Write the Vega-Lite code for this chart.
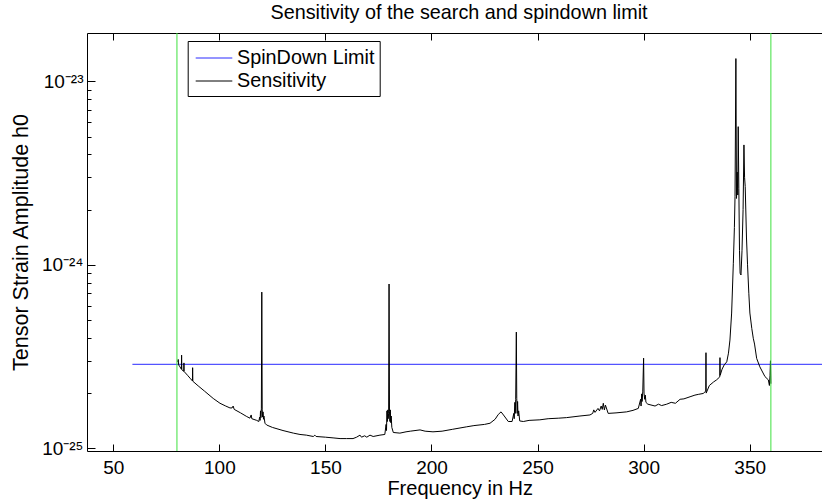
{
  "$schema": "https://vega.github.io/schema/vega-lite/v6.json",
  "autosize": "none",
  "padding": {"left": 87, "top": 33, "right": 0, "bottom": 51},
  "width": 735,
  "height": 418,
  "title": {"text": "Sensitivity of the search and spindown limit", "fontSize": 19.8, "fontWeight": "normal", "font": "Liberation Sans", "color": "black", "anchor": "middle", "frame": "group", "dx": 4.5, "dy": 6.5, "offset": 0.4, "baseline": "alphabetic"},
  "datasets": {
    "lines": [
      {"f": 59, "h": 2.87e-25, "s": "SpinDown Limit"},
      {"f": 400, "h": 2.87e-25, "s": "SpinDown Limit"},
      {"f": 80.4, "h": 2.95e-25, "s": "Sensitivity"},
      {"f": 80.6, "h": 3.05e-25, "s": "Sensitivity"},
      {"f": 80.8, "h": 2.85e-25, "s": "Sensitivity"},
      {"f": 81.4, "h": 2.78e-25, "s": "Sensitivity"},
      {"f": 82.1, "h": 2.70e-25, "s": "Sensitivity"},
      {"f": 82.2, "h": 3.22e-25, "s": "Sensitivity"},
      {"f": 82.3, "h": 2.68e-25, "s": "Sensitivity"},
      {"f": 83.2, "h": 2.63e-25, "s": "Sensitivity"},
      {"f": 83.3, "h": 2.92e-25, "s": "Sensitivity"},
      {"f": 83.4, "h": 2.62e-25, "s": "Sensitivity"},
      {"f": 85.0, "h": 2.50e-25, "s": "Sensitivity"},
      {"f": 86.2, "h": 2.41e-25, "s": "Sensitivity"},
      {"f": 87.3, "h": 2.33e-25, "s": "Sensitivity"},
      {"f": 87.4, "h": 2.75e-25, "s": "Sensitivity"},
      {"f": 87.5, "h": 2.32e-25, "s": "Sensitivity"},
      {"f": 90.0, "h": 2.19e-25, "s": "Sensitivity"},
      {"f": 93.0, "h": 2.05e-25, "s": "Sensitivity"},
      {"f": 97.1, "h": 1.87e-25, "s": "Sensitivity"},
      {"f": 100.3, "h": 1.76e-25, "s": "Sensitivity"},
      {"f": 103.0, "h": 1.70e-25, "s": "Sensitivity"},
      {"f": 105.0, "h": 1.66e-25, "s": "Sensitivity"},
      {"f": 106.0, "h": 1.66e-25, "s": "Sensitivity"},
      {"f": 106.5, "h": 1.70e-25, "s": "Sensitivity"},
      {"f": 107.0, "h": 1.63e-25, "s": "Sensitivity"},
      {"f": 110.0, "h": 1.56e-25, "s": "Sensitivity"},
      {"f": 112.9, "h": 1.49e-25, "s": "Sensitivity"},
      {"f": 114.4, "h": 1.46e-25, "s": "Sensitivity"},
      {"f": 115.0, "h": 1.52e-25, "s": "Sensitivity"},
      {"f": 115.3, "h": 1.45e-25, "s": "Sensitivity"},
      {"f": 117.6, "h": 1.42e-25, "s": "Sensitivity"},
      {"f": 118.6, "h": 1.40e-25, "s": "Sensitivity"},
      {"f": 119.0, "h": 1.48e-25, "s": "Sensitivity"},
      {"f": 119.2, "h": 1.42e-25, "s": "Sensitivity"},
      {"f": 119.4, "h": 1.60e-25, "s": "Sensitivity"},
      {"f": 119.6, "h": 1.47e-25, "s": "Sensitivity"},
      {"f": 119.8, "h": 1.64e-25, "s": "Sensitivity"},
      {"f": 120.0, "h": 7.10e-25, "s": "Sensitivity"},
      {"f": 120.2, "h": 1.62e-25, "s": "Sensitivity"},
      {"f": 120.4, "h": 1.48e-25, "s": "Sensitivity"},
      {"f": 120.6, "h": 1.58e-25, "s": "Sensitivity"},
      {"f": 120.8, "h": 1.44e-25, "s": "Sensitivity"},
      {"f": 121.0, "h": 1.50e-25, "s": "Sensitivity"},
      {"f": 121.5, "h": 1.37e-25, "s": "Sensitivity"},
      {"f": 122.3, "h": 1.34e-25, "s": "Sensitivity"},
      {"f": 125.0, "h": 1.30e-25, "s": "Sensitivity"},
      {"f": 130.0, "h": 1.25e-25, "s": "Sensitivity"},
      {"f": 134.9, "h": 1.21e-25, "s": "Sensitivity"},
      {"f": 138.0, "h": 1.19e-25, "s": "Sensitivity"},
      {"f": 141.0, "h": 1.18e-25, "s": "Sensitivity"},
      {"f": 144.3, "h": 1.16e-25, "s": "Sensitivity"},
      {"f": 145.0, "h": 1.18e-25, "s": "Sensitivity"},
      {"f": 145.6, "h": 1.16e-25, "s": "Sensitivity"},
      {"f": 150.0, "h": 1.15e-25, "s": "Sensitivity"},
      {"f": 153.6, "h": 1.14e-25, "s": "Sensitivity"},
      {"f": 156.9, "h": 1.13e-25, "s": "Sensitivity"},
      {"f": 160.0, "h": 1.13e-25, "s": "Sensitivity"},
      {"f": 163.0, "h": 1.13e-25, "s": "Sensitivity"},
      {"f": 164.7, "h": 1.15e-25, "s": "Sensitivity"},
      {"f": 166.3, "h": 1.18e-25, "s": "Sensitivity"},
      {"f": 167.0, "h": 1.15e-25, "s": "Sensitivity"},
      {"f": 168.5, "h": 1.17e-25, "s": "Sensitivity"},
      {"f": 169.5, "h": 1.15e-25, "s": "Sensitivity"},
      {"f": 171.0, "h": 1.18e-25, "s": "Sensitivity"},
      {"f": 172.5, "h": 1.16e-25, "s": "Sensitivity"},
      {"f": 175.7, "h": 1.18e-25, "s": "Sensitivity"},
      {"f": 178.0, "h": 1.19e-25, "s": "Sensitivity"},
      {"f": 178.6, "h": 1.35e-25, "s": "Sensitivity"},
      {"f": 178.8, "h": 1.25e-25, "s": "Sensitivity"},
      {"f": 179.0, "h": 1.60e-25, "s": "Sensitivity"},
      {"f": 179.2, "h": 1.40e-25, "s": "Sensitivity"},
      {"f": 179.4, "h": 1.62e-25, "s": "Sensitivity"},
      {"f": 179.6, "h": 1.45e-25, "s": "Sensitivity"},
      {"f": 179.8, "h": 1.55e-25, "s": "Sensitivity"},
      {"f": 180.0, "h": 7.86e-25, "s": "Sensitivity"},
      {"f": 180.2, "h": 1.58e-25, "s": "Sensitivity"},
      {"f": 180.4, "h": 1.40e-25, "s": "Sensitivity"},
      {"f": 180.6, "h": 1.62e-25, "s": "Sensitivity"},
      {"f": 180.8, "h": 1.38e-25, "s": "Sensitivity"},
      {"f": 181.0, "h": 1.50e-25, "s": "Sensitivity"},
      {"f": 181.3, "h": 1.30e-25, "s": "Sensitivity"},
      {"f": 182.0, "h": 1.22e-25, "s": "Sensitivity"},
      {"f": 185.1, "h": 1.21e-25, "s": "Sensitivity"},
      {"f": 188.0, "h": 1.23e-25, "s": "Sensitivity"},
      {"f": 190.0, "h": 1.24e-25, "s": "Sensitivity"},
      {"f": 194.6, "h": 1.26e-25, "s": "Sensitivity"},
      {"f": 197.0, "h": 1.24e-25, "s": "Sensitivity"},
      {"f": 200.7, "h": 1.23e-25, "s": "Sensitivity"},
      {"f": 205.0, "h": 1.24e-25, "s": "Sensitivity"},
      {"f": 210.0, "h": 1.27e-25, "s": "Sensitivity"},
      {"f": 216.6, "h": 1.31e-25, "s": "Sensitivity"},
      {"f": 220.0, "h": 1.33e-25, "s": "Sensitivity"},
      {"f": 225.0, "h": 1.35e-25, "s": "Sensitivity"},
      {"f": 227.6, "h": 1.37e-25, "s": "Sensitivity"},
      {"f": 230.0, "h": 1.44e-25, "s": "Sensitivity"},
      {"f": 231.5, "h": 1.53e-25, "s": "Sensitivity"},
      {"f": 232.8, "h": 1.58e-25, "s": "Sensitivity"},
      {"f": 234.3, "h": 1.50e-25, "s": "Sensitivity"},
      {"f": 236.2, "h": 1.40e-25, "s": "Sensitivity"},
      {"f": 238.0, "h": 1.40e-25, "s": "Sensitivity"},
      {"f": 238.8, "h": 1.55e-25, "s": "Sensitivity"},
      {"f": 239.0, "h": 1.45e-25, "s": "Sensitivity"},
      {"f": 239.3, "h": 1.78e-25, "s": "Sensitivity"},
      {"f": 239.5, "h": 1.55e-25, "s": "Sensitivity"},
      {"f": 239.7, "h": 1.85e-25, "s": "Sensitivity"},
      {"f": 240.0, "h": 4.30e-25, "s": "Sensitivity"},
      {"f": 240.2, "h": 1.87e-25, "s": "Sensitivity"},
      {"f": 240.4, "h": 1.55e-25, "s": "Sensitivity"},
      {"f": 240.6, "h": 1.80e-25, "s": "Sensitivity"},
      {"f": 240.8, "h": 1.50e-25, "s": "Sensitivity"},
      {"f": 241.1, "h": 1.60e-25, "s": "Sensitivity"},
      {"f": 241.6, "h": 1.41e-25, "s": "Sensitivity"},
      {"f": 243.3, "h": 1.40e-25, "s": "Sensitivity"},
      {"f": 246.0, "h": 1.42e-25, "s": "Sensitivity"},
      {"f": 251.1, "h": 1.43e-25, "s": "Sensitivity"},
      {"f": 255.0, "h": 1.45e-25, "s": "Sensitivity"},
      {"f": 260.0, "h": 1.46e-25, "s": "Sensitivity"},
      {"f": 263.7, "h": 1.47e-25, "s": "Sensitivity"},
      {"f": 270.0, "h": 1.50e-25, "s": "Sensitivity"},
      {"f": 274.7, "h": 1.52e-25, "s": "Sensitivity"},
      {"f": 276.0, "h": 1.55e-25, "s": "Sensitivity"},
      {"f": 276.5, "h": 1.62e-25, "s": "Sensitivity"},
      {"f": 277.1, "h": 1.57e-25, "s": "Sensitivity"},
      {"f": 278.5, "h": 1.65e-25, "s": "Sensitivity"},
      {"f": 279.2, "h": 1.60e-25, "s": "Sensitivity"},
      {"f": 280.0, "h": 1.70e-25, "s": "Sensitivity"},
      {"f": 280.5, "h": 1.63e-25, "s": "Sensitivity"},
      {"f": 281.0, "h": 1.76e-25, "s": "Sensitivity"},
      {"f": 281.5, "h": 1.62e-25, "s": "Sensitivity"},
      {"f": 282.0, "h": 1.72e-25, "s": "Sensitivity"},
      {"f": 283.3, "h": 1.55e-25, "s": "Sensitivity"},
      {"f": 287.0, "h": 1.56e-25, "s": "Sensitivity"},
      {"f": 292.0, "h": 1.58e-25, "s": "Sensitivity"},
      {"f": 295.0, "h": 1.61e-25, "s": "Sensitivity"},
      {"f": 297.5, "h": 1.65e-25, "s": "Sensitivity"},
      {"f": 298.6, "h": 1.85e-25, "s": "Sensitivity"},
      {"f": 298.8, "h": 1.70e-25, "s": "Sensitivity"},
      {"f": 299.1, "h": 1.98e-25, "s": "Sensitivity"},
      {"f": 299.3, "h": 1.80e-25, "s": "Sensitivity"},
      {"f": 299.6, "h": 2.03e-25, "s": "Sensitivity"},
      {"f": 300.0, "h": 3.10e-25, "s": "Sensitivity"},
      {"f": 300.2, "h": 2.00e-25, "s": "Sensitivity"},
      {"f": 300.5, "h": 1.85e-25, "s": "Sensitivity"},
      {"f": 300.8, "h": 1.95e-25, "s": "Sensitivity"},
      {"f": 301.1, "h": 1.78e-25, "s": "Sensitivity"},
      {"f": 302.0, "h": 1.74e-25, "s": "Sensitivity"},
      {"f": 305.4, "h": 1.70e-25, "s": "Sensitivity"},
      {"f": 307.0, "h": 1.74e-25, "s": "Sensitivity"},
      {"f": 308.5, "h": 1.71e-25, "s": "Sensitivity"},
      {"f": 310.9, "h": 1.74e-25, "s": "Sensitivity"},
      {"f": 313.0, "h": 1.78e-25, "s": "Sensitivity"},
      {"f": 315.0, "h": 1.76e-25, "s": "Sensitivity"},
      {"f": 317.2, "h": 1.85e-25, "s": "Sensitivity"},
      {"f": 319.0, "h": 1.86e-25, "s": "Sensitivity"},
      {"f": 321.9, "h": 1.91e-25, "s": "Sensitivity"},
      {"f": 324.2, "h": 1.95e-25, "s": "Sensitivity"},
      {"f": 326.0, "h": 1.97e-25, "s": "Sensitivity"},
      {"f": 328.1, "h": 1.99e-25, "s": "Sensitivity"},
      {"f": 329.3, "h": 2.05e-25, "s": "Sensitivity"},
      {"f": 329.4, "h": 3.32e-25, "s": "Sensitivity"},
      {"f": 329.5, "h": 2.00e-25, "s": "Sensitivity"},
      {"f": 331.0, "h": 2.20e-25, "s": "Sensitivity"},
      {"f": 333.0, "h": 2.30e-25, "s": "Sensitivity"},
      {"f": 334.4, "h": 2.36e-25, "s": "Sensitivity"},
      {"f": 335.9, "h": 2.45e-25, "s": "Sensitivity"},
      {"f": 336.0, "h": 3.12e-25, "s": "Sensitivity"},
      {"f": 336.1, "h": 2.50e-25, "s": "Sensitivity"},
      {"f": 337.0, "h": 2.70e-25, "s": "Sensitivity"},
      {"f": 338.0, "h": 2.85e-25, "s": "Sensitivity"},
      {"f": 339.2, "h": 2.96e-25, "s": "Sensitivity"},
      {"f": 340.0, "h": 3.30e-25, "s": "Sensitivity"},
      {"f": 340.7, "h": 3.89e-25, "s": "Sensitivity"},
      {"f": 341.5, "h": 5.46e-25, "s": "Sensitivity"},
      {"f": 342.3, "h": 1.02e-24, "s": "Sensitivity"},
      {"f": 342.8, "h": 1.60e-24, "s": "Sensitivity"},
      {"f": 343.1, "h": 2.35e-24, "s": "Sensitivity"},
      {"f": 343.5, "h": 1.33e-23, "s": "Sensitivity"},
      {"f": 343.8, "h": 2.30e-24, "s": "Sensitivity"},
      {"f": 344.1, "h": 3.20e-24, "s": "Sensitivity"},
      {"f": 344.4, "h": 2.40e-24, "s": "Sensitivity"},
      {"f": 344.6, "h": 5.66e-24, "s": "Sensitivity"},
      {"f": 344.9, "h": 2.60e-24, "s": "Sensitivity"},
      {"f": 345.2, "h": 1.20e-24, "s": "Sensitivity"},
      {"f": 345.5, "h": 9.00e-25, "s": "Sensitivity"},
      {"f": 345.9, "h": 8.80e-25, "s": "Sensitivity"},
      {"f": 346.4, "h": 1.20e-24, "s": "Sensitivity"},
      {"f": 346.9, "h": 2.00e-24, "s": "Sensitivity"},
      {"f": 347.3, "h": 4.50e-24, "s": "Sensitivity"},
      {"f": 347.6, "h": 3.00e-24, "s": "Sensitivity"},
      {"f": 347.9, "h": 2.67e-24, "s": "Sensitivity"},
      {"f": 348.5, "h": 1.40e-24, "s": "Sensitivity"},
      {"f": 349.0, "h": 1.00e-24, "s": "Sensitivity"},
      {"f": 349.6, "h": 7.00e-25, "s": "Sensitivity"},
      {"f": 350.1, "h": 5.46e-25, "s": "Sensitivity"},
      {"f": 351.0, "h": 4.50e-25, "s": "Sensitivity"},
      {"f": 351.7, "h": 3.98e-25, "s": "Sensitivity"},
      {"f": 352.3, "h": 3.70e-25, "s": "Sensitivity"},
      {"f": 353.3, "h": 3.09e-25, "s": "Sensitivity"},
      {"f": 354.8, "h": 2.78e-25, "s": "Sensitivity"},
      {"f": 357.2, "h": 2.46e-25, "s": "Sensitivity"},
      {"f": 358.8, "h": 2.36e-25, "s": "Sensitivity"},
      {"f": 359.3, "h": 2.20e-25, "s": "Sensitivity"},
      {"f": 359.6, "h": 2.50e-25, "s": "Sensitivity"},
      {"f": 359.8, "h": 3.00e-25, "s": "Sensitivity"},
      {"f": 360.0, "h": 2.25e-25, "s": "Sensitivity"}
    ],
    "bounds": [{"f": 80}, {"f": 360}]
  },
  "layer": [
    {
      "data": {"name": "lines"},
      "mark": {"type": "line", "strokeWidth": 1, "clip": true},
      "encoding": {
        "x": {"field": "f", "type": "quantitative", "scale": {"domain": [37.6, 384.1], "nice": false, "zero": false},
          "axis": {"title": "Frequency in Hz", "titleFontSize": 20, "values": [50, 100, 150, 200, 250, 300, 350], "tickSize": -7, "labelPadding": 14.6, "titleX": 372.7, "titleY": 43, "titleBaseline": "alphabetic", "titleAlign": "center", "titleAnchor": null}},
        "y": {"field": "h", "type": "quantitative", "scale": {"type": "log", "domain": [9.67e-26, 1.833e-23], "nice": false, "zero": false},
          "axis": {"title": "Tensor Strain Amplitude h0", "titleFontSize": 21.5,
            "values": [1e-25, 2e-25, 3e-25, 4e-25, 5e-25, 6e-25, 7e-25, 8e-25, 9e-25, 1e-24, 2e-24, 3e-24, 4e-24, 5e-24, 6e-24, 7e-24, 8e-24, 9e-24, 1e-23],
            "labelExpr": "datum.value == 1e-25 ? '10⁻²⁵' : (datum.value == 1e-24 ? '10⁻²⁴' : (datum.value == 1e-23 ? '10⁻²³' : ''))",
            "tickSize": {"condition": {"test": "abs(log(datum.value)/LN10 - round(log(datum.value)/LN10)) < 0.001", "value": -8}, "value": -4},
            "labelPadding": 12, "labelBaseline": "middle",
            "titleX": -60, "titleY": 209, "titleAngle": -90, "titleBaseline": "alphabetic", "titleAlign": "center", "titleAnchor": null}},
        "color": {"field": "s", "type": "nominal", "scale": {"domain": ["SpinDown Limit", "Sensitivity"], "range": ["#2a2aff", "#000000"]}, "legend": {"title": null}}
      }
    },
    {
      "data": {"name": "bounds"},
      "mark": {"type": "rule", "color": "#3ee03e", "strokeWidth": 1},
      "encoding": {
        "x": {"field": "f", "type": "quantitative", "axis": {"orient": "top", "title": null, "labels": false, "values": [50, 100, 150, 200, 250, 300, 350], "tickSize": -7}}
      }
    }
  ],
  "resolve": {"axis": {"x": "independent"}},
  "config": {
    "view": {"stroke": null},
    "font": "Liberation Sans",
    "axis": {"grid": false, "domainColor": "black", "domainWidth": 1, "tickColor": "black", "tickWidth": 1, "labelColor": "black", "titleColor": "black", "labelFontSize": 19, "titleFontSize": 19, "titleFontWeight": "normal", "labelFont": "Liberation Sans", "titleFont": "Liberation Sans"},
    "legend": {"orient": "none", "legendX": 100.7, "legendY": 8, "strokeColor": "black", "fillColor": "white", "padding": 4.5, "symbolType": "M-0.75,0H2.3", "symbolSize": 576, "symbolStrokeWidth": 1, "labelFontSize": 19.8, "labelFont": "Liberation Sans", "labelColor": "black", "labelOffset": 19.8, "rowPadding": 0, "labelLimit": 300}
  }
}
